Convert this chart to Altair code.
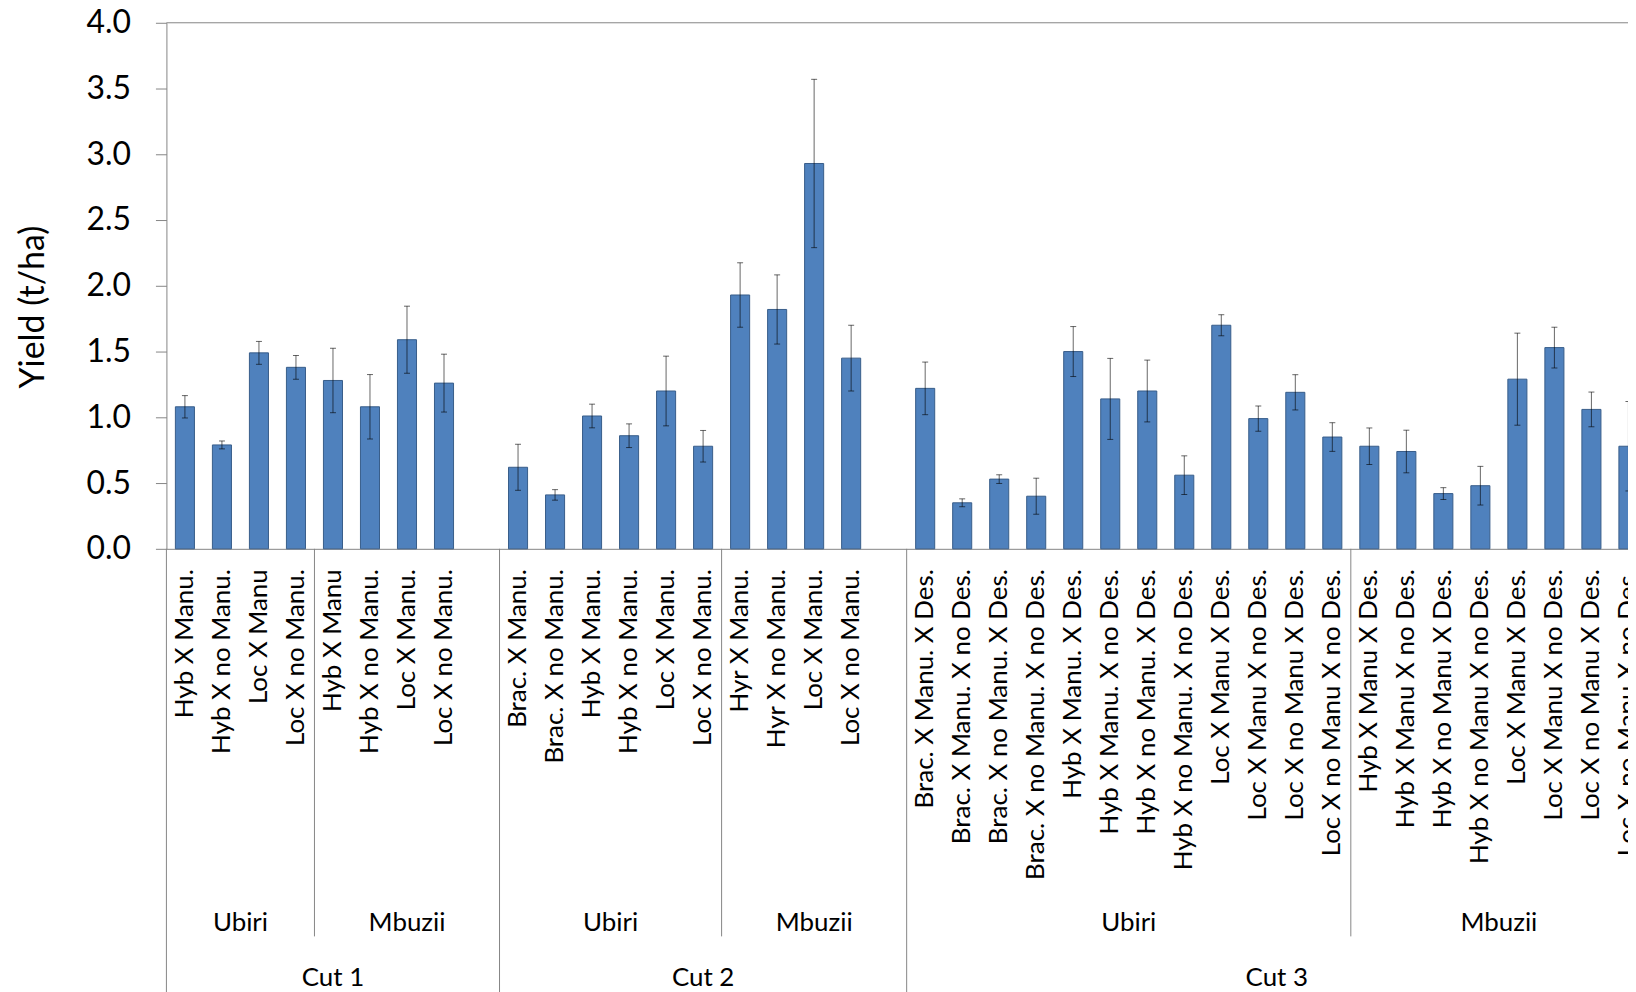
import altair as alt
import pandas as pd

# ---------------- data ----------------
c1_ubiri_labels = ["Hyb X Manu.", "Hyb X no Manu.", "Loc X Manu", "Loc X no Manu."]
c1_ubiri_values = [1.08, 0.79, 1.49, 1.38]
c1_ubiri_errors = [0.085, 0.03, 0.087, 0.09]

c1_mbuzii_labels = ["Hyb X Manu", "Hyb X no Manu.", "Loc X Manu.", "Loc X no Manu."]
c1_mbuzii_values = [1.28, 1.08, 1.59, 1.26]
c1_mbuzii_errors = [0.245, 0.245, 0.255, 0.22]

c2_ubiri_labels = ["Brac. X Manu.", "Brac. X no Manu.", "Hyb X Manu.", "Hyb X no Manu.",
                   "Loc X Manu.", "Loc X no Manu."]
c2_ubiri_values = [0.62, 0.41, 1.01, 0.86, 1.20, 0.78]
c2_ubiri_errors = [0.175, 0.04, 0.09, 0.09, 0.265, 0.12]

c2_mbuzii_labels = ["Hyr X Manu.", "Hyr X no Manu.", "Loc X Manu.", "Loc X no Manu."]
c2_mbuzii_values = [1.93, 1.82, 2.93, 1.45]
c2_mbuzii_errors = [0.245, 0.263, 0.64, 0.25]

c3_ubiri_labels = ["Brac. X Manu. X Des.", "Brac. X  Manu. X no Des.", "Brac. X no Manu. X Des.",
                   "Brac. X no Manu. X no Des.", "Hyb X Manu. X Des.", "Hyb X Manu. X no Des.",
                   "Hyb X no Manu. X Des.", "Hyb X no Manu. X no Des.", "Loc X Manu X Des.",
                   "Loc X  Manu X no Des.", "Loc X no Manu X Des.", "Loc X  no Manu X no Des."]
c3_ubiri_values = [1.22, 0.35, 0.53, 0.40, 1.50, 1.14, 1.20, 0.56, 1.70, 0.99, 1.19, 0.85]
c3_ubiri_errors = [0.20, 0.03, 0.033, 0.137, 0.19, 0.308, 0.235, 0.147, 0.08, 0.096, 0.134, 0.109]

c3_mbuzii_labels = ["Hyb X Manu X Des.", "Hyb X  Manu X no Des.", "Hyb X no Manu X Des.",
                    "Hyb X  no Manu X no Des.", "Loc X Manu X Des.", "Loc X  Manu X no Des.",
                    "Loc X no Manu X Des.", "Loc X no Manu X no Des."]
c3_mbuzii_values = [0.78, 0.74, 0.42, 0.48, 1.29, 1.53, 1.06, 0.78]
c3_mbuzii_errors = [0.139, 0.162, 0.045, 0.147, 0.35, 0.155, 0.132, 0.34]

# (cut, site, labels, values, errors, empty slots after the group)
groups = [
    ("Cut 1", "Ubiri", c1_ubiri_labels, c1_ubiri_values, c1_ubiri_errors, 0),
    ("Cut 1", "Mbuzii", c1_mbuzii_labels, c1_mbuzii_values, c1_mbuzii_errors, 1),
    ("Cut 2", "Ubiri", c2_ubiri_labels, c2_ubiri_values, c2_ubiri_errors, 0),
    ("Cut 2", "Mbuzii", c2_mbuzii_labels, c2_mbuzii_values, c2_mbuzii_errors, 1),
    ("Cut 3", "Ubiri", c3_ubiri_labels, c3_ubiri_values, c3_ubiri_errors, 0),
    ("Cut 3", "Mbuzii", c3_mbuzii_labels, c3_mbuzii_values, c3_mbuzii_errors, 0),
]

rows = []
site_rows = []
cut_spans = {}
slot = 0
for cut, site, labels, values, errors, gap in groups:
    start = slot
    for lab, v, e in zip(labels, values, errors):
        rows.append({"key": f"{cut}|{site}|{lab}", "value": v, "err": e})
        slot += 1
    for g in range(gap):
        rows.append({"key": f"{cut}|{site}|", "value": None, "err": None})
        slot += 1
    site_rows.append({"site": site, "start": start, "mid": (start + slot) / 2})
    s0, s1 = cut_spans.get(cut, (start, slot))
    cut_spans[cut] = (min(s0, start), max(s1, slot))

df = pd.DataFrame(rows)
keys = list(df["key"])
NSLOT = len(keys)

sites_df = pd.DataFrame(site_rows)
mbuzii_df = sites_df[sites_df["site"] == "Mbuzii"]
cuts_df = pd.DataFrame([{"cut": c, "start": a, "end": b, "mid": (a + b) / 2}
                        for c, (a, b) in cut_spans.items()])
cut_bounds = pd.DataFrame({"pos": sorted(set(list(cuts_df["start"]) + list(cuts_df["end"])))})

# ---------------- layout ----------------
STEP = 37.15
W = 1467
H = 528
FONT = "Lato"
AXIS_GRAY = "#868686"
YT = "Yield (t/ha)"

xrange_ = [0, NSLOT * STEP]


def xscale():
    return alt.Scale(domain=keys, range=xrange_, paddingInner=0, paddingOuter=0)


xaxis = alt.Axis(
    title=None, labelExpr="split(datum.value, '|')[2]", labelAngle=270,
    labelAlign="right", labelBaseline="middle", labelPadding=20, labelFont=FONT,
    labelFontSize=26, labelColor="black", labelLimit=600, labelOverlap=False,
    labelBound=False, labelFlush=False, ticks=False, domainColor=AXIS_GRAY,
    domainWidth=1, grid=False,
)
yscale = alt.Scale(domain=[0, 4], nice=False)
yaxis = alt.Axis(
    values=[0, 0.5, 1.0, 1.5, 2.0, 2.5, 3.0, 3.5, 4.0], format=".1f", grid=False,
    labelFont=FONT, labelFontSize=32, labelColor="black", labelPadding=25,
    tickSize=11, tickColor=AXIS_GRAY, domainColor=AXIS_GRAY, domainWidth=1,
    title=YT, titleFont=FONT, titleFontSize=34, titleFontWeight="normal",
    titleColor="black", titleX=-150, titleY=285, titleAngle=270,
    titleBaseline="top", titleAlign="center",
)

base = alt.Chart(df)

bars = base.mark_bar(
    width=alt.RelativeBandSize(0.515), color="#4F81BD", stroke="#385D8A", strokeWidth=1
).encode(
    x=alt.X("key:N", sort=keys, scale=xscale(), axis=xaxis),
    y=alt.Y("value:Q", scale=yscale, axis=yaxis),
)

err_base = base.transform_filter("isValid(datum.value)").transform_calculate(
    lo="datum.value - datum.err", hi="datum.value + datum.err"
)
err_rule = err_base.mark_rule(color="black", opacity=0.6, strokeWidth=1).encode(
    x=alt.X("key:N", sort=keys, scale=xscale(), axis=None),
    y=alt.Y("lo:Q", title=YT),
    y2="hi:Q",
)
err_caps = err_base.transform_fold(["lo", "hi"], as_=["end", "yv"]).mark_tick(
    color="black", opacity=0.6, thickness=1, size=6
).encode(
    x=alt.X("key:N", sort=keys, scale=xscale(), axis=None),
    y=alt.Y("yv:Q", title=YT),
)

top_line = alt.Chart(pd.DataFrame({"top": [4.0]})).mark_rule(color=AXIS_GRAY).encode(
    y=alt.Y("top:Q", title=YT), x=alt.value(0), x2=alt.value(W)
)

pscale = alt.Scale(domain=[0, NSLOT], range=xrange_)

site_seps = alt.Chart(mbuzii_df).mark_rule(color=AXIS_GRAY, strokeWidth=1).encode(
    x=alt.X("start:Q", scale=pscale, axis=None), y=alt.value(H), y2=alt.value(917)
)
cut_seps = alt.Chart(cut_bounds).mark_rule(color=AXIS_GRAY, strokeWidth=1).encode(
    x=alt.X("pos:Q", scale=pscale, axis=None), y=alt.value(H), y2=alt.value(975)
)
site_text = alt.Chart(sites_df).mark_text(
    font=FONT, fontSize=26, color="black", align="center", baseline="middle"
).encode(x=alt.X("mid:Q", scale=pscale, axis=None), y=alt.value(904), text="site:N")
cut_text = alt.Chart(cuts_df).mark_text(
    font=FONT, fontSize=26, color="black", align="center", baseline="middle"
).encode(x=alt.X("mid:Q", scale=pscale, axis=None), y=alt.value(959), text="cut:N")

chart = alt.layer(
    bars, err_rule, err_caps, top_line, site_seps, cut_seps, site_text, cut_text
).resolve_scale(x="independent").properties(
    width=W, height=H,
    padding={"left": 159, "top": 13, "right": 0, "bottom": 443},
    autosize=alt.AutoSizeParams(type="none"),
).configure(font=FONT).configure_view(stroke=None)

chart.save("out.html", embed_options={"renderer": "svg", "actions": False})
